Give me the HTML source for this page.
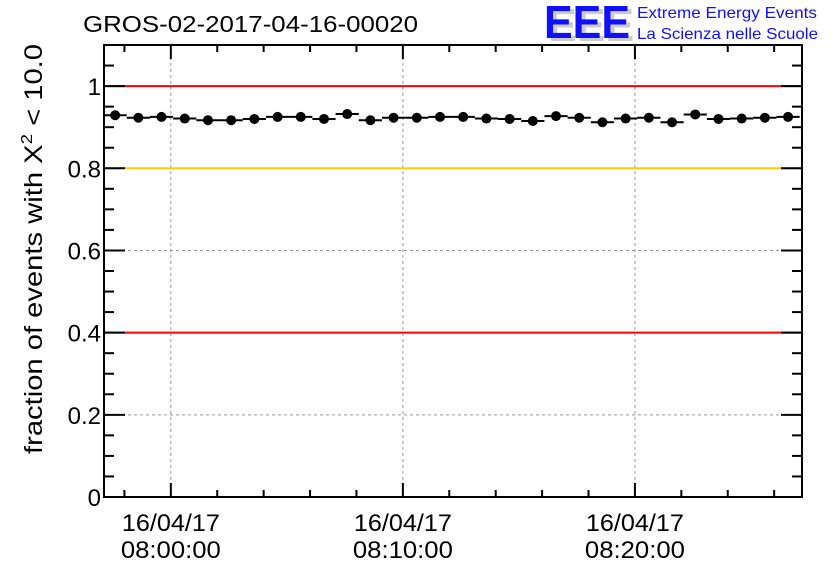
<!DOCTYPE html>
<html><head><meta charset="utf-8"><style>
body{margin:0;background:#fff;}
svg{display:block;font-family:"Liberation Sans",Arial,sans-serif;}
</style></head><body>
<svg id="chart" width="836" height="572" xmlns="http://www.w3.org/2000/svg">
<rect width="836" height="572" fill="#fff"/>
<text x="83" y="32" font-size="23" textLength="335" lengthAdjust="spacingAndGlyphs">GROS-02-2017-04-16-00020</text>
<g>
<text x="548" y="41" font-size="46" font-weight="bold" fill="#ccc" textLength="86" lengthAdjust="spacingAndGlyphs">EEE</text>
<text x="544" y="38" font-size="46" font-weight="bold" fill="#1010ff" textLength="86" lengthAdjust="spacingAndGlyphs">EEE</text>
<text x="637" y="18" font-size="16" fill="#1010ff" textLength="180" lengthAdjust="spacingAndGlyphs">Extreme Energy Events</text>
<text x="637" y="39" font-size="16" fill="#1010ff" textLength="181" lengthAdjust="spacingAndGlyphs">La Scienza nelle Scuole</text>
</g>
<text transform="translate(42,454) rotate(-90)" font-size="25" textLength="410" lengthAdjust="spacingAndGlyphs">fraction of events with X<tspan dy="-10" font-size="16">2</tspan><tspan dy="10"> &lt; 10.0</tspan></text>
<g id="grid"></g>
<g id="refs"></g>
<g id="axes"></g>
<g id="series"></g>
</svg>
<script>
const yValues=[0.929,0.923,0.925,0.921,0.917,0.917,0.920,0.925,0.925,0.920,0.932,0.917,0.923,0.923,0.925,
0.925,0.921,0.920,0.915,0.927,0.923,0.912,0.921,0.923,0.912,0.931,0.920,0.921,0.923,0.925];
const startMinute=-2.4;
const binMinutes=1.0;
const yTicks=[0,0.2,0.4,0.6,0.8,1];
const yTickLabels=["0","0.2","0.4","0.6","0.8","1"];
const xTicks=[0,10,20];
const xTickDates=["16/04/17","16/04/17","16/04/17"];
const xTickTimes=["08:00:00","08:10:00","08:20:00"];
const refLines=[1.0,0.8,0.4];
const refColors=["#ff0000","#ffcc00","#ff0000"];

const L=104,R=802,T=45,B=497;
const xMin=-2.88,xMax=27.2,yMin=0,yMax=1.1;
const X=m=>L+(m-xMin)/(xMax-xMin)*(R-L);
const Y=v=>B-(v-yMin)/(yMax-yMin)*(B-T);
const NS="http://www.w3.org/2000/svg";
function mk(tag,attrs,parent){const e=document.createElementNS(NS,tag);for(const k in attrs)e.setAttribute(k,attrs[k]);parent.appendChild(e);return e;}
const grid=document.getElementById('grid'),refs=document.getElementById('refs'),axes=document.getElementById('axes'),series=document.getElementById('series');

yTicks.forEach((v,i)=>{
 if(v>0){const g=mk('line',{x1:L,x2:R,y1:Y(v),y2:Y(v),stroke:'#999','stroke-dasharray':'3,3','stroke-width':1},grid);
 
 }
 const lb=mk('text',{x:L-3,y:Y(v)+9,'text-anchor':'end','font-size':24},axes);
 lb.textContent=yTickLabels[i];
 
 
});
refLines.forEach((v,i)=>{
 const l=mk('line',{x1:L,x2:R,y1:Y(v),y2:Y(v),stroke:refColors[i],'stroke-width':2},refs);
 
 
});
yTicks.forEach((v)=>{
 const t=mk('line',{x1:L,x2:L+21,y1:Y(v),y2:Y(v),stroke:'#000','stroke-width':2},axes);
 
 
 const t2=mk('line',{x1:R-21,x2:R,y1:Y(v),y2:Y(v),stroke:'#000','stroke-width':2},axes);
 
 
});
for(let v=0.05;v<1.1;v+=0.05){
 if(Math.abs(v/0.2-Math.round(v/0.2))<0.01)continue;
 const t=mk('line',{x1:L,x2:L+10,y1:Y(v),y2:Y(v),stroke:'#000','stroke-width':2},axes);
 
 
 const t2=mk('line',{x1:R-10,x2:R,y1:Y(v),y2:Y(v),stroke:'#000','stroke-width':2},axes);
 
 
}
for(let m=-2;m<=26;m+=2){
 const major=m%10===0;const len=major?14:7;
 const t=mk('line',{x1:X(m),x2:X(m),y1:B,y2:B-len,stroke:'#000','stroke-width':2},axes);
 
 
 const t2=mk('line',{x1:X(m),x2:X(m),y1:T,y2:T+len,stroke:'#000','stroke-width':2},axes);
 
 
}
xTicks.forEach((m,i)=>{
 const g=mk('line',{x1:X(m),x2:X(m),y1:T,y2:B,stroke:'#999','stroke-dasharray':'3,3','stroke-width':1},grid);
 
 
 const a=mk('text',{x:X(m),y:531,'text-anchor':'middle','font-size':24,textLength:98,lengthAdjust:'spacingAndGlyphs'},axes);
 a.textContent=xTickDates[i];
 
 
 const b=mk('text',{x:X(m),y:558,'text-anchor':'middle','font-size':24,textLength:100,lengthAdjust:'spacingAndGlyphs'},axes);
 b.textContent=xTickTimes[i];
 
 
});
const fr=mk('rect',{x:L,y:T,width:R-L,height:B-T,fill:'none',stroke:'#000','stroke-width':2},axes);


yValues.forEach((v,i)=>{
 const c=startMinute+i*binMinutes;
 const h=mk('line',{x1:X(c-binMinutes/2),x2:X(c+binMinutes/2),y1:Y(v),y2:Y(v),stroke:'#000','stroke-width':2},series);
 
 
 const p=mk('circle',{cx:X(c),cy:Y(v),r:5,fill:'#000'},series);
 
 
});
</script>
</body></html>
